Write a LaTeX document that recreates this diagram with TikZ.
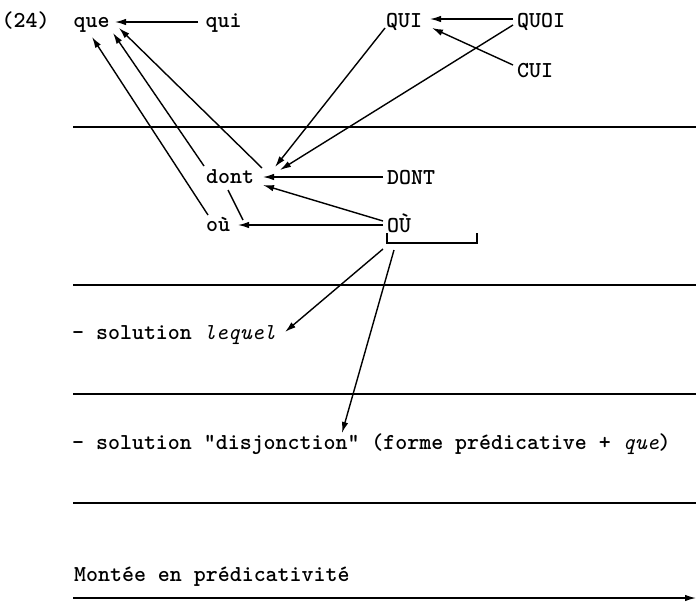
\documentclass[tikz,border=0pt]{standalone}
\usetikzlibrary{arrows.meta}
\newcommand{\itpart}[1]{{\mdseries\itshape #1}}
\begin{document}
\begin{tikzpicture}[x=1pt,y=-1pt,
  lab/.style={anchor=base west, inner sep=0pt, font=\fontsize{22.8}{27}\selectfont\ttfamily\bfseries},
  arr/.style={-{Latex[length=11pt,width=6.5pt]}, line width=1.4pt},
  plain/.style={line width=1.4pt},
  rule/.style={line width=1.6pt}]
\useasboundingbox (0,0) rectangle (696,603);
% texts
\node[lab] (n24) at (1.5,27) {(24)};
\node[lab] (que) at (73.5,27) {que};
\node[lab] (qui) at (205.5,27) {qui};
\node[lab] (QUI) at (386,27.5) {QUI};
\node[lab] (QUOI) at (517,27.5) {QUOI};
\node[lab] (CUI) at (517,77.5) {CUI};
\node[lab] (dont) at (206,183) {dont};
\node[lab] (DONT) at (387,184) {DONT};
\node[lab] (ou) at (206,231) {où};
\node[lab] (OU) at (387,232) {OÙ};
\node[lab] (lequel) at (72,339) {- solution \itpart{lequel}};
\node[lab] (disj) at (72,449) {- solution "disjonction" (forme prédicative + \itpart{que})};
\node[lab] (montee) at (74,581) {Montée en prédicativité};
% connector end points
\coordinate (queA) at (92,37);
\coordinate (queB) at (113,33);
\coordinate (queC) at (119,28);
\coordinate (queE) at (115,22);
\coordinate (quiW) at (198,22);
\coordinate (QUIE) at (430,19);
\coordinate (QUIse) at (432,28);
\coordinate (QUIsw) at (385,28);
\coordinate (QUOIW) at (513,19);
\coordinate (QUOIsw) at (513,25);
\coordinate (CUIW) at (513,65);
\coordinate (dontNEa) at (275,167);
\coordinate (dontNEb) at (280,170);
\coordinate (dontE) at (263,177);
\coordinate (dontSE) at (263,185);
\coordinate (dontNE) at (262,168);
\coordinate (dontNW) at (204,166);
\coordinate (dontS) at (228,190);
\coordinate (DONTW) at (383,177);
\coordinate (OUWa) at (383,221);
\coordinate (OUW) at (383,225);
\coordinate (ouE) at (238,225);
\coordinate (ouNE) at (243,220);
\coordinate (ouNW) at (208,215);
\coordinate (brA) at (387,233);
\coordinate (brB) at (387,243);
\coordinate (brC) at (477,243);
\coordinate (brD) at (477,233);
\coordinate (brL) at (383,249);
\coordinate (brR) at (394,250);
\coordinate (lequelE) at (285,332);
\coordinate (disjN) at (342,433);
\coordinate (axisL) at (73,598);
\coordinate (axisR) at (696,598);
% rules
\draw[rule] (73,127) -- (696,127);
\draw[rule] (73,285) -- (696,285);
\draw[rule] (73,394) -- (696,394);
\draw[rule] (73,503) -- (696,503);
% arrows
\draw[arr] (quiW) -- (queE);
\draw[arr] (QUOIW) -- (QUIE);
\draw[arr] (CUIW) -- (QUIse);
\draw[arr] (QUIsw) -- (dontNEa);
\draw[arr] (QUOIsw) -- (dontNEb);
\draw[arr] (DONTW) -- (dontE);
\draw[arr] (OUWa) -- (dontSE);
\draw[arr] (OUW) -- (ouE);
\draw[arr] (dontNE) -- (queC);
\draw[arr] (dontNW) -- (queB);
\draw[arr] (ouNW) -- (queA);
\draw[plain] (dontS) -- (ouNE);
\draw[plain] (brA) -- (brB) -- (brC) -- (brD);
\draw[arr] (brL) -- (lequelE);
\draw[arr] (brR) -- (disjN);
\draw[arr] (axisL) -- (axisR);
\end{tikzpicture}
\end{document}
